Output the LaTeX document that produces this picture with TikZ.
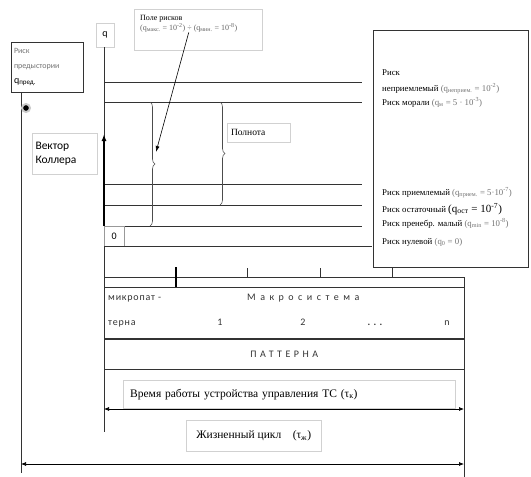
\documentclass[tikz,border=0pt]{standalone}
\usepackage{fontspec}
\setmainfont{Liberation Serif}
\setsansfont{Carlito}
\usepackage{tikz}
\usetikzlibrary{arrows.meta,positioning,decorations.pathreplacing}

\newcommand{\qval}[2]{{\color{black!55}(q\textsubscript{#1} = #2)}}

\begin{document}
\begin{tikzpicture}[x=1pt, y=-1pt,
    lbl/.style={draw=black!18, fill=white, inner sep=2pt},
    frame/.style={draw=black!80, line width=0.7pt, fill=white},
    level/.style={draw=black!80, line width=0.6pt},
    risk/.style={anchor=base west, inner sep=0pt, font=\fontsize{8.8}{10}\selectfont},
    macro/.style={inner sep=0pt, font=\sffamily\fontsize{10}{11}\selectfont, text=black!80},
    brc/.style={decorate, decoration={brace, amplitude=5pt}, draw=black!70, line width=0.6pt},
    dim/.style={{Latex[length=5pt,width=4pt]}-{Latex[length=5pt,width=4pt]}, line width=0.7pt}]

    \useasboundingbox (0,0) rectangle (531,477);

    % Left column
    \node[frame, minimum width=72, minimum height=50, text width=66, align=left, inner sep=2pt,
          font=\sffamily\fontsize{8}{15}\selectfont, text=black!55] (prehist) at (47,67)
          {Риск\\предыстории\\{\color{black}\fontsize{10}{11}\selectfont q\textsubscript{пред.}}};
    \coordinate (lbot) at (21,473);
    \draw[level] (prehist.south -| lbot) -- (lbot);
    \node[circle, fill=black, draw=black!20, line width=2pt, inner sep=0pt, minimum size=8pt] (start) at (26,108) {};
    \node[lbl, minimum width=65, minimum height=41, text width=58, align=left,
          font=\sffamily\fontsize{11.5}{14}\selectfont] (koller) at (64.5,153.5) {Вектор\\Коллера};

    % Risk axis
    \node[lbl, minimum width=18, minimum height=24, font=\sffamily\fontsize{10}{11}\selectfont] (qlab) at (105,35) {q};
    \coordinate (qbot) at (104,432);
    \draw[level] (qlab.south -| qbot) -- (qbot);
    \foreach \yy in {82,102,184,205,226}
        \draw[level] (104,\yy) -- (362,\yy);
    \node[draw=black!40, minimum width=20, minimum height=20, anchor=north west, inner sep=0pt,
          font=\sffamily\fontsize{10}{11}\selectfont] (zero) at (104,226) {0};
    \draw[level] (zero.south west) -- ++(268,0);
    \coordinate (vtip) at (104,134);
    \draw[-{Latex[length=7pt,width=5pt]}, line width=1.6pt] (zero.north west) -- (vtip);

    % Field of risks
    \node[lbl, minimum width=128, minimum height=41, anchor=north west] (fieldbox) at (134,9) {};
    \node[anchor=north west, align=left, inner sep=0pt, font=\fontsize{8}{10}\selectfont] (fieldtxt) at (140,15)
          {Поле рисков\\{\color{black!60}(q\textsubscript{макс.} = 10\textsuperscript{-2}) ÷ (q\textsubscript{мин.} = 10\textsuperscript{-8})}};
    \draw[brc] (150,102) -- (150,226);
    \draw[brc] (220,102) -- (220,205);
    \coordinate (bracetip) at (156,152);
    \draw[-{Latex[length=6pt,width=4pt]}, line width=0.6pt] (fieldtxt.south) -- (bracetip);
    \node[lbl, minimum width=63, minimum height=19, text width=55, align=left,
          font=\fontsize{9.5}{10}\selectfont] (full) at (258.5,132.5) {Полнота};

    % Risk levels
    \node[frame, minimum width=155, minimum height=237] (levels) at (450.5,148.5) {};
    \node[risk] (rnot) at (382,75) {Риск};
    \node[risk] (rnot2) at (382,91) {неприемлемый \qval{неприем.}{10\textsuperscript{-2}}};
    \node[risk] (rmoral) at (382,105.5) {Риск морали \qval{м}{5 · 10\textsuperscript{-3}}};
    \node[risk] (racc) at (382,195.5) {Риск приемлемый \qval{прием.}{5·10\textsuperscript{-7}}};
    \node[risk] (rres) at (382,212) {Риск остаточный {\fontsize{11}{12}\selectfont(q\textsubscript{ост} = 10\textsuperscript{-7})}};
    \node[risk] (rneg) at (382,226) {Риск пренебр. малый \qval{min}{10\textsuperscript{-8}}};
    \node[risk] (rzero) at (382,244) {Риск нулевой \qval{0}{0}};

    % Macrosystem and pattern
    \draw[level] (104,277) -- (464,277);
    \foreach \xx in {247,320,392}
        \draw[level] (\xx,268) -- (\xx,277);
    \draw[line width=1.3pt] (176,267) -- (176,287);
    \node[draw=black!80, line width=0.6pt, minimum width=360, minimum height=51, anchor=north west] (macro) at (104,287) {};
    \node[draw=black!80, line width=0.6pt, minimum width=360, minimum height=30, anchor=north west,
          macro, font=\sffamily\fontsize{10}{11}\selectfont\addfontfeature{LetterSpace=35}] (pattern) at (macro.south west) {ПАТТЕРНА};
    \coordinate (rbot) at (464,477);
    \draw[level] (464,277) -- (rbot);
    \node[macro, anchor=base west] (micro1) at (108,300.5) {\addfontfeature{LetterSpace=8}микропат -};
    \node[macro, anchor=base west] (msys) at (247,300.5) {\addfontfeature{LetterSpace=45}Макросистема};
    \node[macro, anchor=base west] (micro2) at (108,325.5) {\addfontfeature{LetterSpace=8}терна};
    \node[macro, anchor=base] (m1) at (220,325.5) {1};
    \node[macro, anchor=base] (m2) at (303,325.5) {2};
    \node[macro, anchor=base] (mdots) at (375,325.5) {\textbf{.\,\,.\,\,.}};
    \node[macro, anchor=base] (mn) at (447,325.5) {n};

    % Time spans
    \node[lbl, minimum width=332, minimum height=28, anchor=north west, text width=318, align=left,
          font=\fontsize{11.5}{13}\selectfont] (worktime) at (123,380) {Время работы устройства управления ТС (τ\textsubscript{к})};
    \coordinate (tl) at (104,409);
    \coordinate (tr) at (464,409);
    \draw[dim] (tl) -- (tr);
    \node[lbl, minimum width=135, minimum height=31, anchor=north west,
          font=\fontsize{11.5}{13}\selectfont] (life) at (186,420) {Жизненный цикл\quad(τ\textsubscript{ж})};
    \coordinate (ll) at (21,464);
    \coordinate (lr) at (464,464);
    \draw[dim] (ll) -- (lr);

\end{tikzpicture}
\end{document}
